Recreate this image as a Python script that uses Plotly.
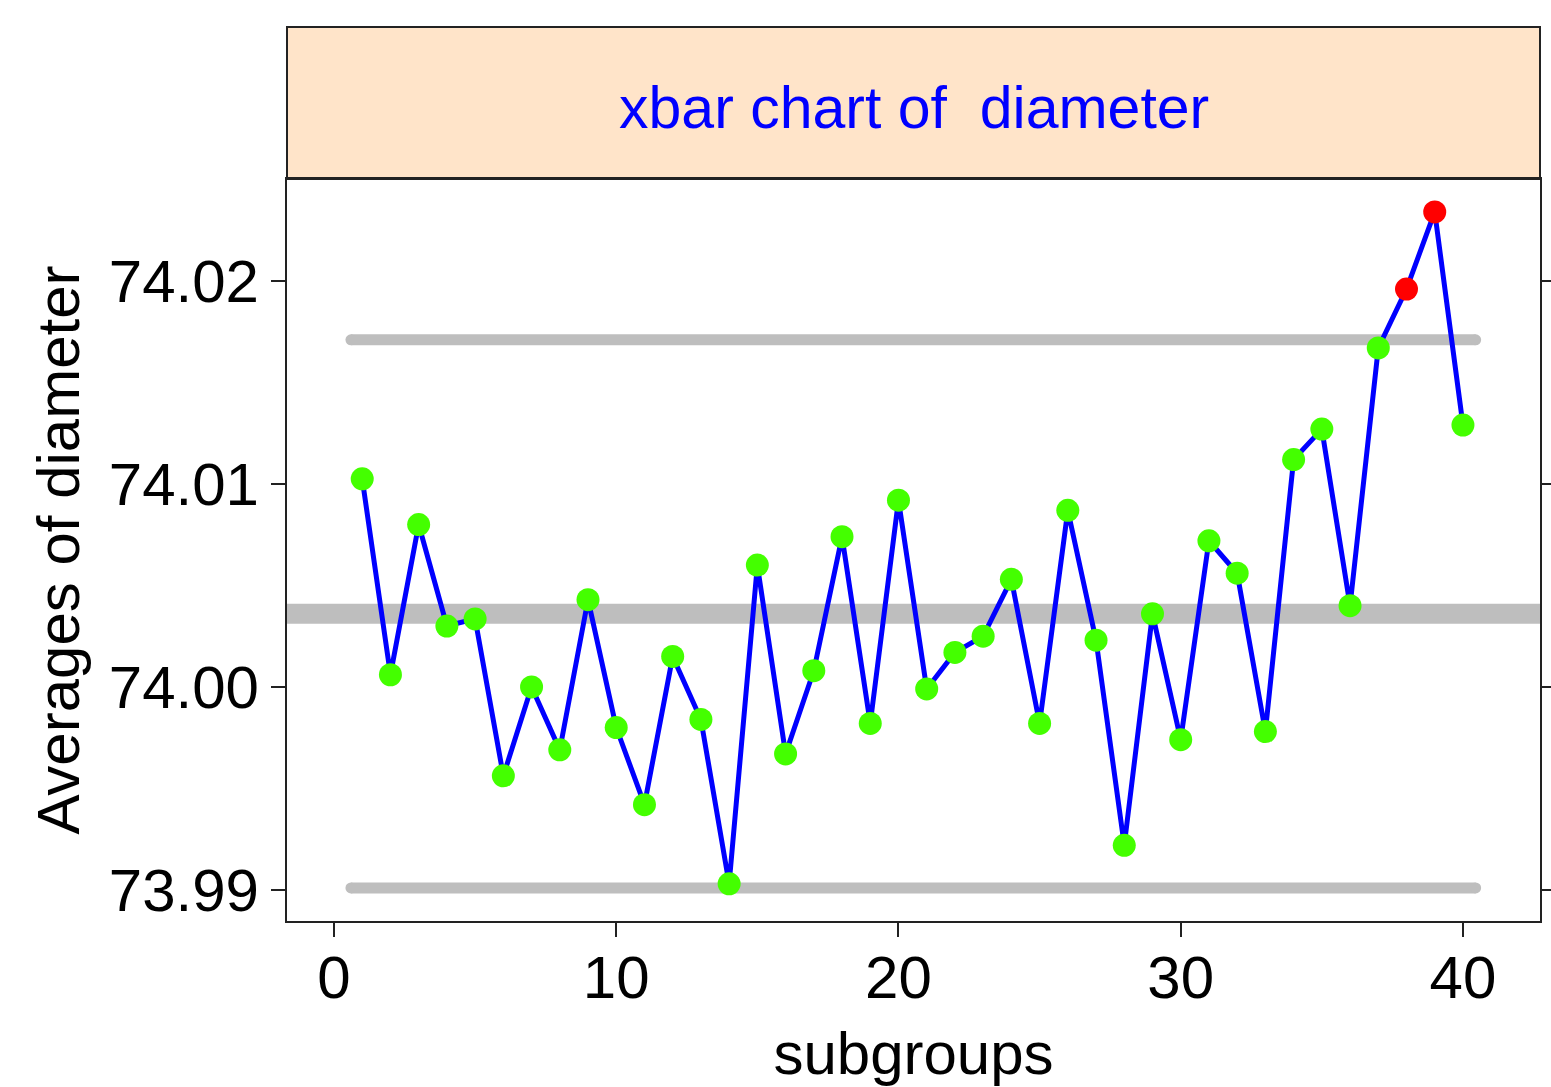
import plotly.graph_objects as go

subgroups = list(range(1, 41))
averages = [74.01025, 74.0006, 74.0080, 74.0030, 74.00335, 73.99562, 74.0000, 73.9969,
            74.0043, 73.9980, 73.9942, 74.0015, 73.9984, 73.9903, 74.0060, 73.9967,
            74.0008, 74.0074, 73.9982, 74.0092, 73.9999, 74.0017, 74.0025, 74.0053,
            73.9982, 74.0087, 74.0023, 73.9922, 74.0036, 73.9974, 74.0072, 74.0056,
            73.9978, 74.0112, 74.0127, 74.0040, 74.0167, 74.0196, 74.0234, 74.0129]
center_value = 74.0036
ucl_value = 74.0171
lcl_value = 73.9901
limit_x = [0.6, 40.45]
x_range = [-1.665, 42.73]
y_range = [73.98847, 74.02502]
x_ticks = [0, 10, 20, 30, 40]
y_ticks = [73.99, 74.00, 74.01, 74.02]
y_tick_labels = ["73.99", "74.00", "74.01", "74.02"]
title_text = "xbar chart of  diameter"
x_title = "subgroups"
y_title = "Averages of diameter"

point_colors = ["#FF0000" if (v > ucl_value or v < lcl_value) else "#44FF00" for v in averages]

GRAY = "#BEBEBE"
FONT = "Liberation Sans, Arial, sans-serif"

fig = go.Figure()

# center line across whole panel
fig.add_trace(go.Scatter(x=x_range, y=[center_value, center_value], mode="lines",
                         line=dict(color=GRAY, width=20), hoverinfo="skip", showlegend=False))
# control limits with rounded ends
for lim in (ucl_value, lcl_value):
    fig.add_trace(go.Scatter(x=limit_x, y=[lim, lim], mode="lines+markers",
                             line=dict(color=GRAY, width=11),
                             marker=dict(color=GRAY, size=11, symbol="circle"),
                             hoverinfo="skip", showlegend=False))

fig.add_trace(go.Scatter(x=subgroups, y=averages, mode="lines",
                         line=dict(color="#0000FF", width=5), showlegend=False))
fig.add_trace(go.Scatter(x=subgroups, y=averages, mode="markers",
                         marker=dict(color=point_colors, size=23, line=dict(width=0)),
                         showlegend=False))

W, H = 1551, 1087
L, R, T, B = 287, 11, 179, 166
ph = H - T - B
strip_top = 27

fig.add_shape(type="rect", xref="paper", yref="paper", x0=0, x1=1,
              y0=1, y1=1 + (T - strip_top) / ph,
              fillcolor="#FFE4C9", line=dict(color="#222222", width=2), layer="below")
fig.add_annotation(xref="paper", yref="paper", x=0.5, y=1 + (T - 108) / ph,
                   text=title_text, showarrow=False, xanchor="center", yanchor="middle",
                   font=dict(family=FONT, size=59, color="#0000FF"))

fig.update_layout(
    width=W, height=H,
    margin=dict(l=L, r=R, t=T, b=B, pad=0, autoexpand=False),
    paper_bgcolor="white", plot_bgcolor="white",
    font=dict(family=FONT, color="black"),
    xaxis=dict(range=x_range, tickvals=x_ticks, ticks="outside", ticklen=14, tickwidth=2,
               tickcolor="#222222", showline=True, linecolor="#222222", linewidth=2,
               mirror=True, showgrid=False, zeroline=False, automargin=False,
               ticklabelstandoff=-11,
               tickfont=dict(family=FONT, size=60),
               title=dict(text=x_title, font=dict(family=FONT, size=60), standoff=28)),
    yaxis=dict(range=y_range, tickvals=y_ticks, ticktext=y_tick_labels, ticks="outside",
               ticklen=14, tickwidth=2, tickcolor="#222222", showline=True,
               linecolor="#222222", linewidth=2, mirror="ticks", showgrid=False,
               zeroline=False, automargin=False, tickfont=dict(family=FONT, size=60),
               title=dict(text=y_title, font=dict(family=FONT, size=60), standoff=10)),
)

fig.write_html("out.html")
